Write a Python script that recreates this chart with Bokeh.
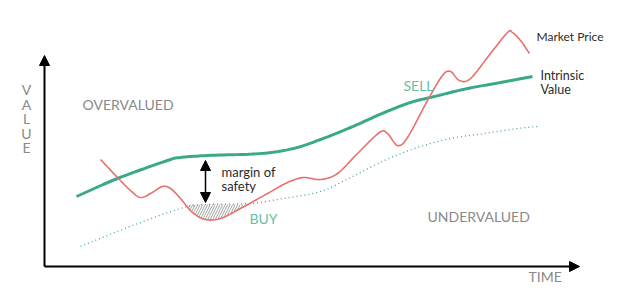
import numpy as np
from bokeh.plotting import figure
from bokeh.models import Range1d, Arrow, NormalHead, Label
from bokeh.embed import file_html
from bokeh.resources import INLINE

# Curves, in picture coordinates (x to the right, y downwards)
intrinsic_x = [76, 117, 167, 180, 207, 260, 293, 320, 350, 384, 410, 434, 467, 500, 532]
intrinsic_y = [196, 178, 160, 157, 155, 153, 148, 139, 127, 112, 102, 96, 88, 82, 76]

market_x = [100, 117, 130, 140, 150, 162, 170, 180, 192, 205, 220, 240, 267, 287, 303, 320,
            337, 357, 379, 387, 397, 407, 427, 442, 450, 459, 470, 490, 507, 512, 520, 529]
market_y = [159, 177, 190, 197, 193, 186, 188, 198, 212, 219, 218, 208, 193, 182, 177, 179,
            173, 153, 132, 133, 145, 137, 100, 75, 71, 80, 78, 53, 32, 32, 40, 53]

lower_x = [80, 127, 180, 207, 250, 283, 320, 350, 384, 417, 450, 484, 517, 537]
lower_y = [246, 227, 208, 204, 203, 198, 191, 177, 160, 147, 138, 133, 128, 126]

hatch_left, hatch_right, hatch_top = 187, 243, 204

GREEN = "#3aa98a"
GREEN_LIGHT = "#67bfa5"
RED = "#e8706c"
GRAY = "#8a8a8a"
DARK = "#2b2b2b"
FONT = "Lato"


def smooth(xs, ys, n=12):
    xs = np.asarray(xs, float)
    ys = np.asarray(ys, float)
    px = np.concatenate([[2 * xs[0] - xs[1]], xs, [2 * xs[-1] - xs[-2]]])
    py = np.concatenate([[2 * ys[0] - ys[1]], ys, [2 * ys[-1] - ys[-2]]])
    ox, oy = [], []
    t = np.linspace(0, 1, n, endpoint=False)
    for i in range(1, len(px) - 2):
        p0, p1, p2, p3 = (np.array([px[j], py[j]]) for j in range(i - 1, i + 3))
        for tt in t:
            pt = 0.5 * ((2 * p1) + (-p0 + p2) * tt + (2 * p0 - 5 * p1 + 4 * p2 - p3) * tt ** 2
                        + (-p0 + 3 * p1 - 3 * p2 + p3) * tt ** 3)
            ox.append(pt[0]); oy.append(pt[1])
    ox.append(xs[-1]); oy.append(ys[-1])
    return np.array(ox), np.array(oy)


p = figure(width=637, height=305, x_range=Range1d(0, 637), y_range=Range1d(305, 0),
           output_backend="svg", toolbar_location=None, min_border=0,
           x_axis_location=None, y_axis_location=None)
p.grid.visible = False
p.outline_line_color = None
p.background_fill_color = "white"
p.border_fill_color = "white"

# hatched margin
mx, my = smooth(market_x, market_y)
hx = np.linspace(hatch_left, hatch_right, 40)
hy = np.maximum(np.interp(hx, mx, my), hatch_top)
p.patch(np.concatenate([hx, hx[::-1]]), np.concatenate([hy, np.full_like(hx, hatch_top)]),
        fill_alpha=0, line_color=None, hatch_pattern="/", hatch_color="#a0a0a0",
        hatch_scale=5, hatch_weight=1)

lx, ly = smooth(lower_x, lower_y)
p.line(lx, ly, line_color=GREEN, line_width=1.3, line_dash="1 3")

ix, iy = smooth(intrinsic_x, intrinsic_y)
p.line(ix, iy, line_color=GREEN, line_width=3)

p.line(mx, my, line_color=RED, line_width=1.6)

# axes with arrow heads
p.add_layout(Arrow(end=NormalHead(size=10, fill_color="black", line_color="black"),
                   x_start=44, y_start=266, x_end=44, y_end=55, line_width=2, line_color="black"))
p.add_layout(Arrow(end=NormalHead(size=10, fill_color="black", line_color="black"),
                   x_start=44, y_start=266, x_end=579, y_end=266, line_width=2, line_color="black"))

# margin of safety double arrow
p.add_layout(Arrow(start=NormalHead(size=10, fill_color="black", line_color="black"),
                   end=NormalHead(size=10, fill_color="black", line_color="black"),
                   x_start=205, y_start=202, x_end=205, y_end=160, line_width=1.5, line_color="black"))


def lab(x, y, t, color, size="14px", align="left"):
    p.add_layout(Label(x=x, y=y, text=t, text_color=color, text_font=FONT, text_font_size=size,
                       text_baseline="middle", text_align=align))


for i, ch in enumerate("VALUE"):
    lab(26, 89 + i * 14.6, ch, GRAY, "14px", "center")

lab(82, 104, "OVERVALUED", GRAY, "14px")
lab(427, 216, "UNDERVALUED", GRAY, "14px")
lab(528, 276, "TIME", GRAY, "14px")
lab(249, 218, "BUY", GREEN_LIGHT, "14px")
lab(403, 85, "SELL", GREEN_LIGHT, "14px")
lab(221, 171, "margin of", DARK, "13px")
lab(221, 185, "safety", DARK, "13px")
lab(536, 36, "Market Price", DARK, "12px")
lab(540, 75, "Intrinsic", DARK, "12.5px")
lab(540, 89, "Value", DARK, "12.5px")

open("out.html", "w").write(file_html(p, INLINE))
